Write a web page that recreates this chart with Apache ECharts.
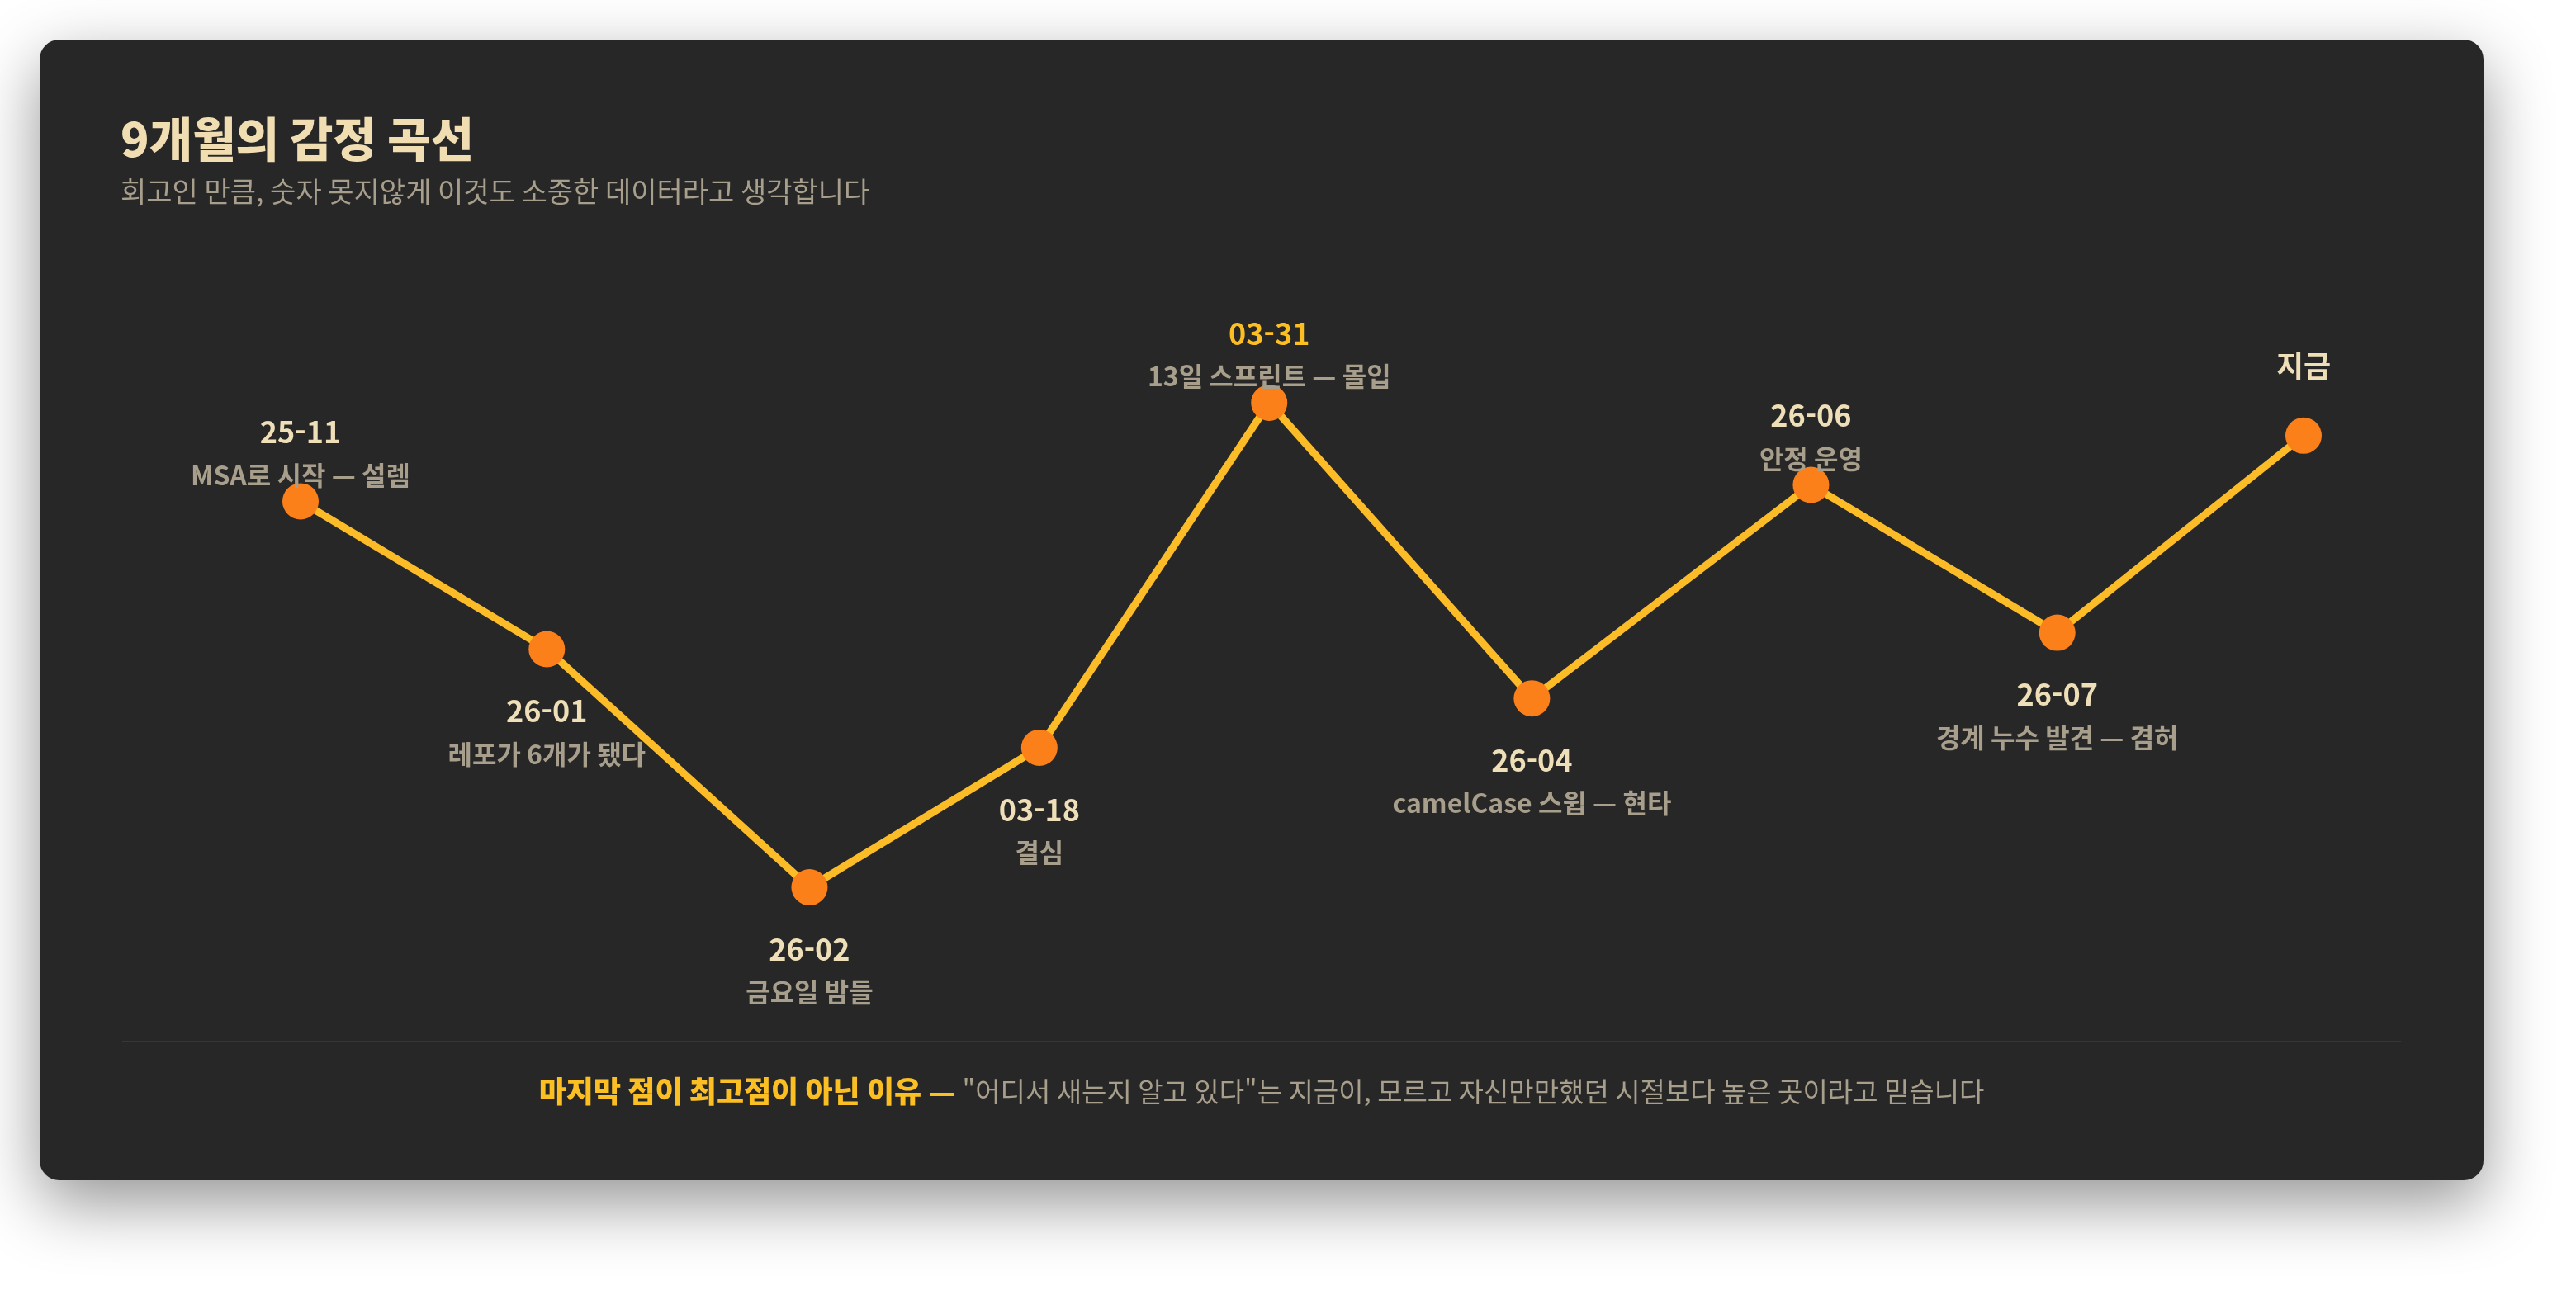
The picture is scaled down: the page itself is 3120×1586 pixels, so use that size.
<!DOCTYPE html>
<html lang="ko">
<head>
<meta charset="utf-8">
<title>9개월의 감정 곡선</title>
<script src="https://cdn.jsdelivr.net/npm/echarts@6/dist/echarts.min.js"></script>
<style>
    html, body { margin: 0; padding: 0; background: #ffffff; overflow: hidden; }
    .card {
        position: absolute;
        left: 48px; top: 48px;
        width: 2960px; height: 1382px;
        background: #272727;
        border-radius: 24px;
        box-shadow: 0 28px 80px rgba(0, 0, 0, 0.42);
    }
    #chart { position: absolute; left: 0; top: 0; width: 3120px; height: 1586px; }
</style>
</head>
<body>
<div class="card"></div>
<div id="chart"></div>
<script>
// 구간별 날짜 / 한 줄 메모
const dates = ['25-11', '26-01', '26-02', '03-18', '03-31', '26-04', '26-06', '26-07', '지금'];
const notes = ['MSA로 시작 — 설렘', '레포가 6개가 됐다', '금요일 밤들', '결심', '13일 스프린트 — 몰입',
    'camelCase 스윕 — 현타', '안정 운영', '경계 누수 발견 — 겸허', ''];
// 가로 간격(시간 흐름), 감정 점수
const steps = [0, 15, 31, 45, 59, 75, 92, 107, 122];
const mood = [24, 15, 0.5, 9, 30, 12, 25, 16, 28];

const FONT = '"Noto Sans CJK KR", "Noto Sans", sans-serif';
const maxMood = Math.max(...mood);

// 봉우리(양 옆보다 높은 점)는 라벨을 위로, 나머지는 아래로
function isPeak(i) {
    const prev = i > 0 ? mood[i - 1] : -Infinity;
    const next = i < mood.length - 1 ? mood[i + 1] : -Infinity;
    return mood[i] > prev && mood[i] > next;
}

const points = mood.map((v, i) => {
    const up = isPeak(i);
    const hasNote = notes[i] !== '';
    const key = v === maxMood ? 'hd' : 'd';
    let offsetY;
    if (up) offsetY = hasNote ? -58 : -84;
    else offsetY = hasNote ? 101 : 75;
    return {
        value: [steps[i], v],
        label: {
            offset: [0, offsetY],
            formatter: '{' + key + '|' + dates[i] + '}' + (hasNote ? '\n{t|' + notes[i] + '}' : '')
        }
    };
});

const chart = echarts.init(document.getElementById('chart'), null, { renderer: 'canvas' });
chart.setOption({
    backgroundColor: 'transparent',
    animation: false,
    grid: { left: 364, right: 330, top: 488, bottom: 501 },
    xAxis: { type: 'value', min: 0, max: 122, show: false },
    yAxis: { type: 'value', min: 0, max: 30, show: false },
    graphic: [
        {
            type: 'text',
            style: {
                text: '9개월의 감정 곡선',
                x: 146, y: 168,
                verticalAlign: 'middle',
                fill: '#f0ddb2',
                font: '800 57px ' + FONT
            }
        },
        {
            type: 'text',
            style: {
                text: '회고인 만큼, 숫자 못지않게 이것도 소중한 데이터라고 생각합니다',
                x: 146, y: 232,
                verticalAlign: 'middle',
                fill: '#a89e8c',
                font: '34px ' + FONT
            }
        },
        {
            type: 'line',
            shape: { x1: 148, y1: 1262, x2: 2908, y2: 1262 },
            style: { stroke: '#393634', lineWidth: 2 }
        },
        {
            type: 'text',
            style: {
                text: '{a|마지막 점이 최고점이 아닌 이유 — }{b|"어디서 새는지 알고 있다"는 지금이, 모르고 자신만만했던 시절보다 높은 곳이라고 믿습니다}',
                x: 1528, y: 1322,
                align: 'center',
                verticalAlign: 'middle',
                rich: {
                    a: { fill: '#fbbf24', fontWeight: 900, fontSize: 36, fontFamily: FONT },
                    b: { fill: '#a89e8c', fontSize: 33, fontFamily: FONT }
                }
            }
        }
    ],
    series: [{
        type: 'line',
        data: points,
        symbol: 'circle',
        symbolSize: 44,
        lineStyle: { color: '#fbbc28', width: 9 },
        itemStyle: { color: '#fc8019' },
        z: 3,
        label: {
            show: true,
            position: 'inside',
            align: 'center',
            verticalAlign: 'middle',
            rich: {
                d: { color: '#efdfb9', fontSize: 36, fontWeight: 'bold', fontFamily: FONT, lineHeight: 52 },
                hd: { color: '#fbbf24', fontSize: 36, fontWeight: 'bold', fontFamily: FONT, lineHeight: 52 },
                t: { color: '#a89e8c', fontSize: 32, fontWeight: 600, fontFamily: FONT, lineHeight: 52 }
            }
        },
        emphasis: { disabled: true }
    }]
});
</script>
</body>
</html>
